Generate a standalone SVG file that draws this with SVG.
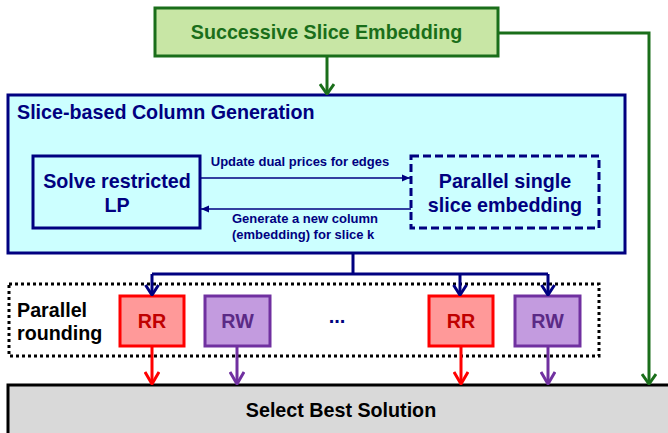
<svg xmlns="http://www.w3.org/2000/svg" width="668" height="433" viewBox="0 0 668 433">
<style>
text{font-family:"Liberation Sans",Arial,sans-serif;font-weight:bold}
.t{font-size:19.7px}
.s{font-size:13px;fill:#000080}
.navy{stroke:#000080}
.ln{fill:none;stroke-width:3}
</style>
<defs>
<marker id="vGreen" markerUnits="userSpaceOnUse" viewBox="0 0 12 16" refX="11" refY="8" markerWidth="12" markerHeight="16" orient="auto"><path d="M1,1 L11,8 L1,15" fill="none" stroke="#1a6e1a" stroke-width="3"/></marker>
<marker id="vNavy" markerUnits="userSpaceOnUse" viewBox="0 0 12 16" refX="11" refY="8" markerWidth="12" markerHeight="16" orient="auto"><path d="M1,1.5 L11,8 L1,14.5" fill="none" stroke="#000080" stroke-width="3"/></marker>
<marker id="vRed" markerUnits="userSpaceOnUse" viewBox="0 0 14 16" refX="13" refY="8" markerWidth="14" markerHeight="16" orient="auto"><path d="M1,1 L13,8 L1,15" fill="none" stroke="#ff0000" stroke-width="3"/></marker>
<marker id="vPurple" markerUnits="userSpaceOnUse" viewBox="0 0 14 16" refX="13" refY="8" markerWidth="14" markerHeight="16" orient="auto"><path d="M1,1 L13,8 L1,15" fill="none" stroke="#7030a0" stroke-width="3"/></marker>
<marker id="tri" markerUnits="userSpaceOnUse" viewBox="0 0 8 8" refX="8" refY="4" markerWidth="8" markerHeight="8" orient="auto"><path d="M0,0.5 L8,4 L0,7.5 Z" fill="#000080"/></marker>
</defs>

<g id="column-generation">
<rect x="8" y="95" width="617" height="158" fill="#ccffff" stroke="#000080" stroke-width="3"/>
<text x="17" y="119" class="t" fill="#000080">Slice-based Column Generation</text>
</g>

<g id="successive">
<rect x="155" y="8" width="343" height="48" fill="#c8e6a5" stroke="#1a6e1a" stroke-width="3"/>
<text x="326.5" y="39" class="t" fill="#1a6e1a" text-anchor="middle">Successive Slice Embedding</text>
</g>

<g id="solve-lp">
<rect x="33" y="156" width="167" height="72" fill="#ccffff" stroke="#000080" stroke-width="3"/>
<text x="117" y="188" class="t" fill="#000080" text-anchor="middle">Solve restricted</text>
<text x="117" y="212" class="t" fill="#000080" text-anchor="middle">LP</text>
</g>

<g id="parallel-embedding">
<rect x="411" y="156" width="188" height="72" fill="#ccffff" stroke="#000080" stroke-width="3" stroke-dasharray="8 4"/>
<text x="505" y="188" class="t" fill="#000080" text-anchor="middle">Parallel single</text>
<text x="505" y="212" class="t" fill="#000080" text-anchor="middle">slice embedding</text>
</g>

<g id="parallel-rounding">
<rect x="9" y="284" width="590" height="72" fill="none" stroke="#000" stroke-width="3" stroke-dasharray="3 3"/>
<text x="17" y="317" class="t" fill="#000">Parallel</text>
<text x="17" y="340" class="t" fill="#000">rounding</text>
<text x="337" y="323" font-size="20" fill="#000080" text-anchor="middle">...</text>
</g>

<g id="rr1">
<rect x="120" y="296" width="64" height="50" fill="#ff9999" stroke="#ff0000" stroke-width="3"/>
<text x="152" y="328" class="t" fill="#c00000" text-anchor="middle">RR</text>
</g>
<g id="rw1">
<rect x="205" y="296" width="65" height="50" fill="#c39bdf" stroke="#7030a0" stroke-width="3"/>
<text x="237.5" y="328" class="t" fill="#5b2a86" text-anchor="middle">RW</text>
</g>
<g id="rr2">
<rect x="429" y="296" width="64" height="50" fill="#ff9999" stroke="#ff0000" stroke-width="3"/>
<text x="461" y="328" class="t" fill="#c00000" text-anchor="middle">RR</text>
</g>
<g id="rw2">
<rect x="515" y="296" width="65" height="50" fill="#c39bdf" stroke="#7030a0" stroke-width="3"/>
<text x="547.5" y="328" class="t" fill="#5b2a86" text-anchor="middle">RW</text>
</g>

<g id="select-best">
<rect x="8" y="385" width="680" height="70" fill="#d9d9d9" stroke="#000" stroke-width="3"/>
<text x="341" y="417" class="t" fill="#000" text-anchor="middle">Select Best Solution</text>
</g>

<g id="connectors">
<path class="ln" stroke="#1a6e1a" d="M327,56 V94" marker-end="url(#vGreen)"/>
<path class="ln" stroke="#1a6e1a" d="M498,33 H649 V384" marker-end="url(#vGreen)"/>
<path d="M200,178 H410" fill="none" stroke="#000080" stroke-width="1.6" marker-end="url(#tri)"/>
<path d="M411,209 H201" fill="none" stroke="#000080" stroke-width="1.6" marker-end="url(#tri)"/>
<text x="300" y="166" class="s" text-anchor="middle">Update dual prices for edges</text>
<text x="232" y="223" class="s">Generate a new column</text>
<text x="232" y="239" class="s">(embedding) for slice k</text>
<path class="ln navy" d="M353,253 V274 M152,274 H548"/>
<path class="ln navy" d="M152,274 V295" marker-end="url(#vNavy)"/>
<path class="ln navy" d="M460,274 V295" marker-end="url(#vNavy)"/>
<path class="ln navy" d="M548,274 V295" marker-end="url(#vNavy)"/>
<path class="ln" stroke="#ff0000" d="M152,346 V384" marker-end="url(#vRed)"/>
<path class="ln" stroke="#7030a0" d="M237,346 V384" marker-end="url(#vPurple)"/>
<path class="ln" stroke="#ff0000" d="M461,346 V384" marker-end="url(#vRed)"/>
<path class="ln" stroke="#7030a0" d="M548,346 V384" marker-end="url(#vPurple)"/>
</g>
</svg>
